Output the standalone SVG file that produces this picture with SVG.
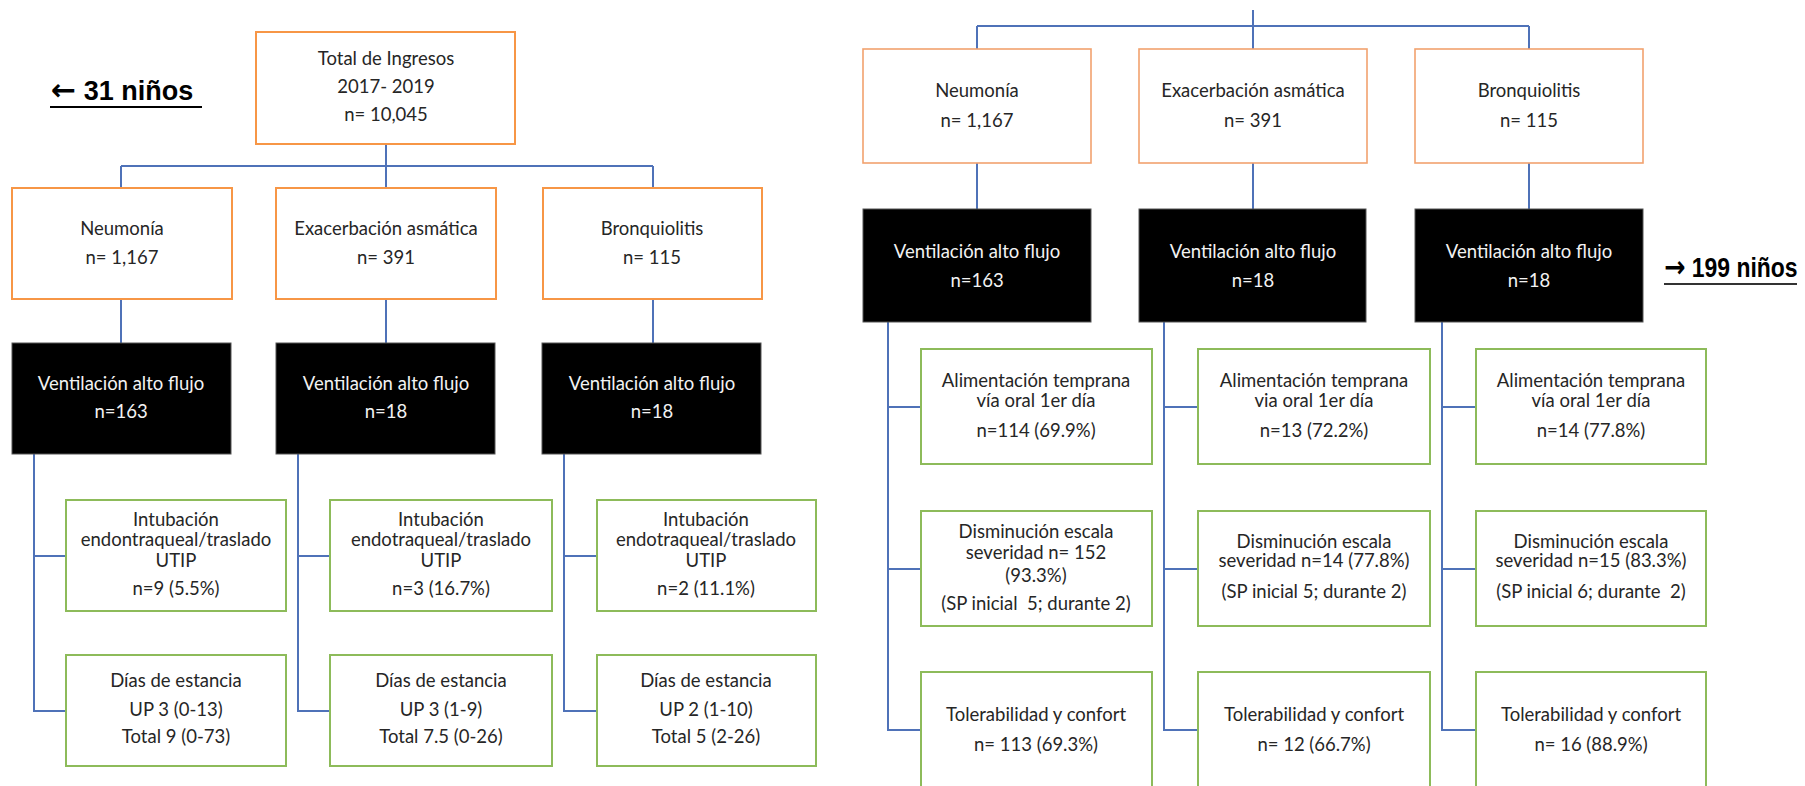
<svg xmlns="http://www.w3.org/2000/svg" width="1805" height="786" viewBox="0 0 1805 786">
<style>
.bg{fill:#fff}
.or{fill:#fff;stroke:#F79646;stroke-width:2}
.orr{fill:#fff;stroke:#F2A26E;stroke-width:1.6}
.gr{fill:#fff;stroke:#8DBB5A;stroke-width:2}
.bk{fill:#000;stroke:#555;stroke-width:1}
.cn{fill:none;stroke:#4F72B8;stroke-width:2}
text{font-family:Lato,"Open Sans","Liberation Sans",sans-serif;font-size:18.5px;fill:#262626;text-anchor:middle}
.w{fill:#f2f2f2}
.big{font-family:"Liberation Sans",Arial,sans-serif;font-weight:bold;font-size:27px;fill:#000;text-anchor:start}
.arr{font-family:"DejaVu Sans",sans-serif;font-weight:bold;font-size:30px}
.ul{stroke:#000;stroke-width:2}
</style>
<rect class="bg" x="0" y="0" width="1805" height="786"/>

<g id="connectors">
  <path class="cn" d="M386 144V166M121 166H653M121 166V188M386 166V188M653 166V188M121 299V343M386 299V343M653 299V343"/>
  <path class="cn" d="M34 454V711H66M34 556H66M298 454V711H330M298 556H330M564 454V711H597M564 556H597"/>
  <path class="cn" d="M1253 10V26M977 26H1529M977 26V49M1253 26V49M1529 26V49M977 163V209M1253 163V209M1529 163V209"/>
  <path class="cn" d="M888 322V730H921M888 407H921M888 569H921M1164 322V730H1198M1164 407H1198M1164 569H1198M1442 322V730H1476M1442 407H1476M1442 569H1476"/>
</g>

<g id="label-31">
  <text class="big" x="51" y="100"><tspan class="arr">←</tspan> 31 niños</text>
  <line class="ul" x1="50" y1="107" x2="202" y2="107"/>
</g>
<g id="label-199">
  <text class="big" transform="translate(1664,277) scale(0.85,1)"><tspan class="arr">→</tspan> 199 niños</text>
  <line class="ul" x1="1664" y1="284" x2="1797" y2="284" style="stroke:#333"/>
</g>

<!-- LEFT -->
<g id="L-total">
  <rect class="or" x="256" y="32" width="259" height="112"/>
  <text x="386" y="65">Total de Ingresos</text>
  <text x="386" y="93">2017- 2019</text>
  <text x="386" y="121">n= 10,045</text>
</g>
<g id="L-neumonia">
  <rect class="or" x="12" y="188" width="220" height="111"/>
  <text x="122" y="235">Neumonía</text>
  <text x="122" y="264">n= 1,167</text>
</g>
<g id="L-asma">
  <rect class="or" x="276" y="188" width="220" height="111"/>
  <text x="386" y="235">Exacerbación asmática</text>
  <text x="386" y="264">n= 391</text>
</g>
<g id="L-bronq">
  <rect class="or" x="543" y="188" width="219" height="111"/>
  <text x="652" y="235">Bronquiolitis</text>
  <text x="652" y="264">n= 115</text>
</g>
<g id="L-vaf1">
  <rect class="bk" x="12" y="343" width="219" height="111"/>
  <text class="w" x="121" y="390">Ventilación alto flujo</text>
  <text class="w" x="121" y="418">n=163</text>
</g>
<g id="L-vaf2">
  <rect class="bk" x="276" y="343" width="219" height="111"/>
  <text class="w" x="386" y="390">Ventilación alto flujo</text>
  <text class="w" x="386" y="418">n=18</text>
</g>
<g id="L-vaf3">
  <rect class="bk" x="542" y="343" width="219" height="111"/>
  <text class="w" x="652" y="390">Ventilación alto flujo</text>
  <text class="w" x="652" y="418">n=18</text>
</g>
<g id="L-int1">
  <rect class="gr" x="66" y="500" width="220" height="111"/>
  <text x="176" y="526">Intubación</text>
  <text x="176" y="546">endontraqueal/traslado</text>
  <text x="176" y="567">UTIP</text>
  <text x="176" y="595">n=9 (5.5%)</text>
</g>
<g id="L-int2">
  <rect class="gr" x="330" y="500" width="222" height="111"/>
  <text x="441" y="526">Intubación</text>
  <text x="441" y="546">endotraqueal/traslado</text>
  <text x="441" y="567">UTIP</text>
  <text x="441" y="595">n=3 (16.7%)</text>
</g>
<g id="L-int3">
  <rect class="gr" x="597" y="500" width="219" height="111"/>
  <text x="706" y="526">Intubación</text>
  <text x="706" y="546">endotraqueal/traslado</text>
  <text x="706" y="567">UTIP</text>
  <text x="706" y="595">n=2 (11.1%)</text>
</g>
<g id="L-dias1">
  <rect class="gr" x="66" y="655" width="220" height="111"/>
  <text x="176" y="687">Días de estancia</text>
  <text x="176" y="716">UP 3 (0-13)</text>
  <text x="176" y="743">Total 9 (0-73)</text>
</g>
<g id="L-dias2">
  <rect class="gr" x="330" y="655" width="222" height="111"/>
  <text x="441" y="687">Días de estancia</text>
  <text x="441" y="716">UP 3 (1-9)</text>
  <text x="441" y="743">Total 7.5 (0-26)</text>
</g>
<g id="L-dias3">
  <rect class="gr" x="597" y="655" width="219" height="111"/>
  <text x="706" y="687">Días de estancia</text>
  <text x="706" y="716">UP 2 (1-10)</text>
  <text x="706" y="743">Total 5 (2-26)</text>
</g>

<!-- RIGHT -->
<g id="R-neumonia">
  <rect class="orr" x="863" y="49" width="228" height="114"/>
  <text x="977" y="97">Neumonía</text>
  <text x="977" y="127">n= 1,167</text>
</g>
<g id="R-asma">
  <rect class="orr" x="1139" y="49" width="228" height="114"/>
  <text x="1253" y="97">Exacerbación asmática</text>
  <text x="1253" y="127">n= 391</text>
</g>
<g id="R-bronq">
  <rect class="orr" x="1415" y="49" width="228" height="114"/>
  <text x="1529" y="97">Bronquiolitis</text>
  <text x="1529" y="127">n= 115</text>
</g>
<g id="R-vaf1">
  <rect class="bk" x="863" y="209" width="228" height="113"/>
  <text class="w" x="977" y="258">Ventilación alto flujo</text>
  <text class="w" x="977" y="287">n=163</text>
</g>
<g id="R-vaf2">
  <rect class="bk" x="1139" y="209" width="227" height="113"/>
  <text class="w" x="1253" y="258">Ventilación alto flujo</text>
  <text class="w" x="1253" y="287">n=18</text>
</g>
<g id="R-vaf3">
  <rect class="bk" x="1415" y="209" width="228" height="113"/>
  <text class="w" x="1529" y="258">Ventilación alto flujo</text>
  <text class="w" x="1529" y="287">n=18</text>
</g>
<g id="R-alim1">
  <rect class="gr" x="921" y="349" width="231" height="115"/>
  <text x="1036" y="387">Alimentación temprana</text>
  <text x="1036" y="407">vía oral 1er día</text>
  <text x="1036" y="437">n=114 (69.9%)</text>
</g>
<g id="R-alim2">
  <rect class="gr" x="1198" y="349" width="232" height="115"/>
  <text x="1314" y="387">Alimentación temprana</text>
  <text x="1314" y="407">via oral 1er día</text>
  <text x="1314" y="437">n=13 (72.2%)</text>
</g>
<g id="R-alim3">
  <rect class="gr" x="1476" y="349" width="230" height="115"/>
  <text x="1591" y="387">Alimentación temprana</text>
  <text x="1591" y="407">vía oral 1er día</text>
  <text x="1591" y="437">n=14 (77.8%)</text>
</g>
<g id="R-dis1">
  <rect class="gr" x="921" y="511" width="231" height="115"/>
  <text x="1036" y="538">Disminución escala</text>
  <text x="1036" y="559">severidad n= 152</text>
  <text x="1036" y="582">(93.3%)</text>
  <text x="1036" y="610" xml:space="preserve">(SP inicial  5; durante 2)</text>
</g>
<g id="R-dis2">
  <rect class="gr" x="1198" y="511" width="232" height="115"/>
  <text x="1314" y="548">Disminución escala</text>
  <text x="1314" y="567">severidad n=14 (77.8%)</text>
  <text x="1314" y="598">(SP inicial 5; durante 2)</text>
</g>
<g id="R-dis3">
  <rect class="gr" x="1476" y="511" width="230" height="115"/>
  <text x="1591" y="548">Disminución escala</text>
  <text x="1591" y="567">severidad n=15 (83.3%)</text>
  <text x="1591" y="598" xml:space="preserve">(SP inicial 6; durante  2)</text>
</g>
<g id="R-tol1">
  <rect class="gr" x="921" y="672" width="231" height="118"/>
  <text x="1036" y="721">Tolerabilidad y confort</text>
  <text x="1036" y="751">n= 113 (69.3%)</text>
</g>
<g id="R-tol2">
  <rect class="gr" x="1198" y="672" width="232" height="118"/>
  <text x="1314" y="721">Tolerabilidad y confort</text>
  <text x="1314" y="751">n= 12 (66.7%)</text>
</g>
<g id="R-tol3">
  <rect class="gr" x="1476" y="672" width="230" height="118"/>
  <text x="1591" y="721">Tolerabilidad y confort</text>
  <text x="1591" y="751">n= 16 (88.9%)</text>
</g>
</svg>
